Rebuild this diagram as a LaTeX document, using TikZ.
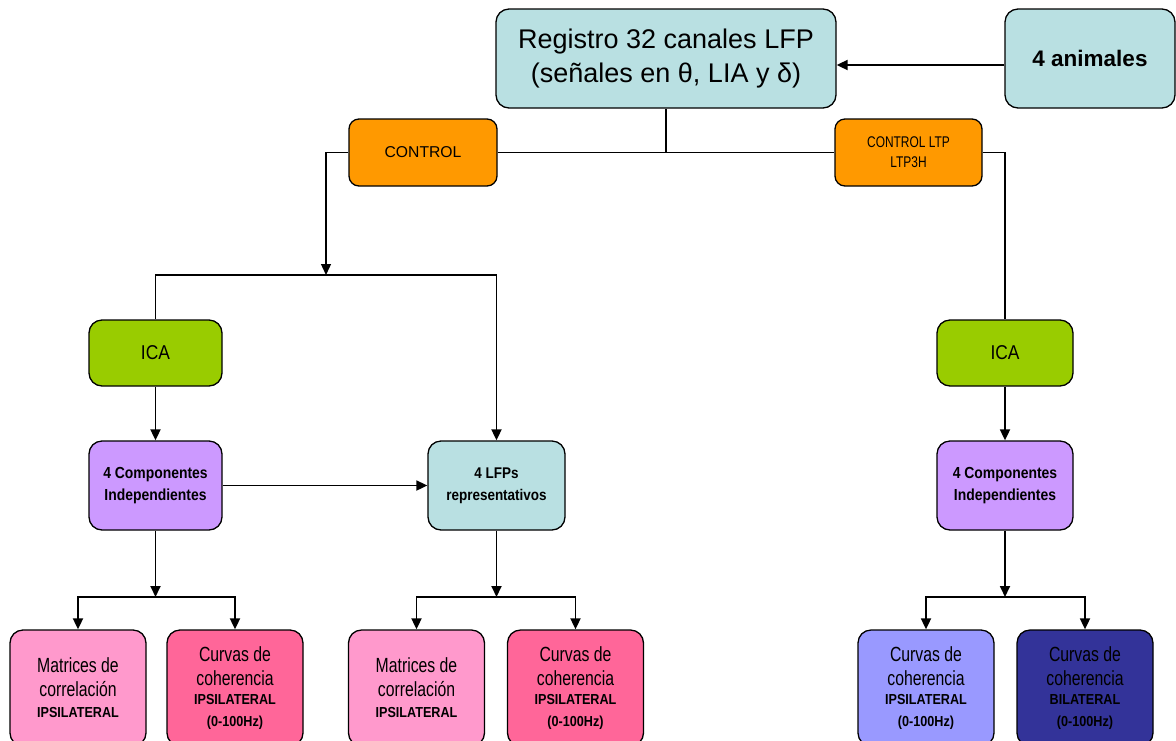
\documentclass[tikz,border=0pt]{standalone}
\usepackage{fontspec}
\setmainfont{Liberation Sans}
\newfontfamily\condfont{Liberation Sans}[FakeStretch=0.77]
\newfontfamily\semifont{Liberation Sans}[FakeStretch=0.87]
\usetikzlibrary{arrows.meta,positioning}

\definecolor{regcyan}{HTML}{B9E0E2}
\definecolor{ctrlorange}{HTML}{FF9900}
\definecolor{icagreen}{HTML}{99CC00}
\definecolor{comppurple}{HTML}{CC99FF}
\definecolor{matpink}{HTML}{FF99CC}
\definecolor{curpink}{HTML}{FF6699}
\definecolor{curlav}{HTML}{9999FF}
\definecolor{curnavy}{HTML}{333399}

\newcommand{\boldline}[1]{{\semifont\fontsize{14.5}{21}\selectfont\bfseries #1}}

\begin{document}
\begin{tikzpicture}[x=1pt,y=-1pt,
	box/.style={draw=black, line width=1.3pt, rounded corners=13pt, align=center, inner sep=0pt},
	link/.style={line width=1.8pt},
	arr/.style={link, -{Triangle[length=11pt,width=10pt]}},
	bottombox/.style={box, minimum width=136pt, minimum height=116pt, font=\condfont\fontsize{20.5}{24}\selectfont}]
	\useasboundingbox (0,0) rectangle (1176,740);
	
	% Top row
	\node[box, fill=regcyan, minimum width=340pt, minimum height=99pt, font=\fontsize{27}{34}\selectfont] (reg) at (666,58.5) {Registro 32 canales LFP\\(señales en θ, LIA y δ)};
	\node[box, fill=regcyan, minimum width=170pt, minimum height=99pt, font=\fontsize{22.5}{27}\selectfont\bfseries] (anim) at (1090,58.5) {4 animales};
	
	% Groups
	\node[box, rounded corners=10pt, fill=ctrlorange, minimum width=148pt, minimum height=67pt, font=\fontsize{15.7}{19}\selectfont] (ctrl) at (423,152.5) {CONTROL};
	\node[box, rounded corners=10pt, fill=ctrlorange, minimum width=147pt, minimum height=67pt, font=\condfont\fontsize{15.5}{20}\selectfont] (ctrlltp) at (908.5,152.5) {CONTROL LTP\\LTP3H};
	
	% ICA and components
	\node[box, fill=icagreen, minimum width=133pt, minimum height=66pt, font=\semifont\fontsize{20}{22}\selectfont] (icaL) at (155.5,353) {ICA};
	\node[box, fill=comppurple, minimum width=133pt, minimum height=89pt, font=\semifont\fontsize{16}{22}\selectfont\bfseries] (compL) at (155.5,485.5) {4 Componentes\\Independientes};
	\node[box, fill=regcyan, minimum width=137pt, minimum height=89pt, font=\semifont\fontsize{15.5}{22}\selectfont\bfseries] (lfp) at (496.5,485.5) {4 LFPs\\representativos};
	\node[box, fill=icagreen, minimum width=136pt, minimum height=66pt, font=\semifont\fontsize{20}{22}\selectfont] (icaR) at (1005,353) {ICA};
	\node[box, fill=comppurple, minimum width=136pt, minimum height=89pt, font=\semifont\fontsize{16}{22}\selectfont\bfseries] (compR) at (1005,485.5) {4 Componentes\\Independientes};
	
	% Results
	\node[bottombox, fill=matpink] (matL) at (78,688) {Matrices de\\correlación\\[-3pt]\boldline{IPSILATERAL}};
	\node[bottombox, fill=curpink] (curL) at (235,688) {Curvas de\\coherencia\\[-5pt]\boldline{IPSILATERAL}\\[-2pt]\boldline{(0-100Hz)}};
	\node[bottombox, fill=matpink] (matM) at (416.5,688) {Matrices de\\correlación\\[-3pt]\boldline{IPSILATERAL}};
	\node[bottombox, fill=curpink] (curM) at (575.5,688) {Curvas de\\coherencia\\[-5pt]\boldline{IPSILATERAL}\\[-2pt]\boldline{(0-100Hz)}};
	\node[bottombox, fill=curlav] (curR) at (926,688) {Curvas de\\coherencia\\[-5pt]\boldline{IPSILATERAL}\\[-2pt]\boldline{(0-100Hz)}};
	\node[bottombox, fill=curnavy] (curB) at (1085,688) {Curvas de\\coherencia\\[-5pt]\boldline{BILATERAL}\\[-2pt]\boldline{(0-100Hz)}};
	
	% Split points
	\coordinate (splitC) at (326,275);
	\coordinate (splitA) at (155.5,597);
	\coordinate (splitB) at (496.5,597);
	\coordinate (splitR) at (1005,597);
	
	% Connectors
	\draw[arr] ([yshift=-6.5pt]anim.west) -- ([yshift=-6.5pt]reg.east);
	\draw[link, line width=1.3pt] (reg.south) -- (reg.south |- ctrl.east);
	\draw[link, line width=1.3pt] (ctrl.east) -- (ctrlltp.west);
	\draw[arr, line width=1.3pt] (ctrl.west) -| (splitC);
	\draw[link, line width=1.3pt] (ctrlltp.east) -| (icaR.north);
	\draw[arr] (icaL.north) |- (splitC) -| (lfp.north);
	\draw[arr] (icaL) -- (compL);
	\draw[arr] (compL) -- (lfp);
	\draw[arr] (icaR) -- (compR);
	
	\draw[arr] (compL.south) -- (splitA);
	\draw[arr] (splitA) -| (matL.north);
	\draw[arr] (splitA) -| (curL.north);
	\draw[arr] (lfp.south) -- (splitB);
	\draw[arr] (splitB) -| (matM.north);
	\draw[arr] (splitB) -| (curM.north);
	\draw[arr] (compR.south) -- (splitR);
	\draw[arr] (splitR) -| (curR.north);
	\draw[arr] (splitR) -| (curB.north);
\end{tikzpicture}
\end{document}
